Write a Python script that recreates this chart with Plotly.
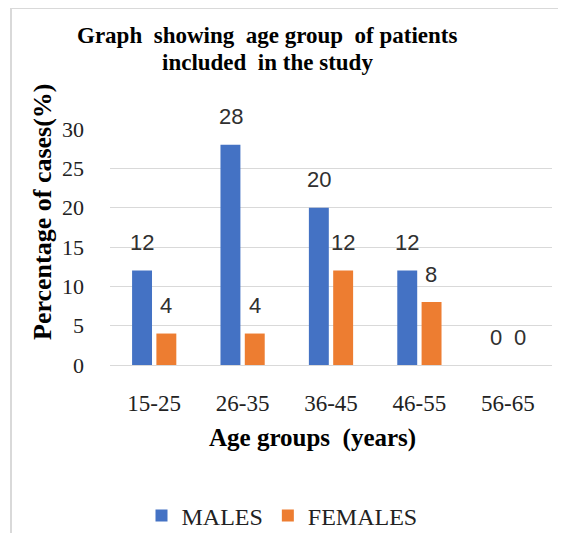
import plotly.graph_objects as go

categories = ["15-25", "26-35", "36-45", "46-55", "56-65"]
males = [12, 28, 20, 12, 0]
females = [4, 4, 12, 8, 0]
series_names = ["MALES", "FEMALES"]
y_ticks = [0, 5, 10, 15, 20, 25, 30]

W, H = 550, 525
OFF = 8  # page body margin
L, R, T, B = 102, 6, 121, 168
pw = W - L - R
ph = H - T - B

def px_x(px):
    return (px - OFF - L) / pw

def px_y(py):
    return (H - B - (py - OFF)) / ph

serif = "Liberation Serif, Times New Roman, serif"
sans = "Liberation Sans Narrow, Liberation Sans, sans-serif"

fig = go.Figure()
fig.add_trace(go.Bar(x=categories, y=males, name=series_names[0],
                     marker=dict(color="#4472C4", line=dict(width=0))))
fig.add_trace(go.Bar(x=categories, y=females, name=series_names[1],
                     marker=dict(color="#ED7D31", line=dict(width=0))))

annotations = []
for vals, shift in ((males, -12), (females, 12)):
    for c, v in zip(categories, vals):
        annotations.append(dict(x=c, y=v, xref="x", yref="y", text=str(v),
                                showarrow=False, xshift=shift, yshift=28,
                                font=dict(family=sans, size=22, color="#303030")))

for txt, yy in (("<b>Graph  showing  age group  of patients</b>", 36),
                ("<b>included  in the study</b>", 62)):
    annotations.append(dict(x=px_x(267), y=px_y(yy), xref="paper", yref="paper",
                            text=txt, showarrow=False,
                            font=dict(family=serif, size=23, color="#000000"),
                            xanchor="center", yanchor="middle"))
annotations.append(dict(x=px_x(312), y=px_y(438), xref="paper", yref="paper",
                        text="<b>Age groups  (years)</b>", showarrow=False,
                        font=dict(family=serif, size=25, color="#000000"),
                        xanchor="center", yanchor="middle"))
annotations.append(dict(x=px_x(42), y=px_y(212), xref="paper", yref="paper",
                        text="<b>Percentage of cases(%)</b>", showarrow=False, textangle=-90,
                        font=dict(family=serif, size=26, color="#000000"),
                        xanchor="center", yanchor="middle"))

border = dict(color="#d9d9d9", width=2)
fig.update_layout(
    width=W, height=H,
    margin=dict(l=L, r=R, t=T, b=B, autoexpand=False),
    paper_bgcolor="white", plot_bgcolor="white",
    font=dict(family=serif, color="#222222"),
    barmode="group", bargap=0.45, bargroupgap=0.18,
    showlegend=True,
    legend=dict(orientation="h", x=px_x(282), y=px_y(516), xanchor="center", yanchor="middle",
                font=dict(family=serif, size=24, color="#222222"),
                itemwidth=30, tracegroupgap=0),
    xaxis=dict(showgrid=False, showline=False, ticks="", ticklabelstandoff=22, automargin=False,
               tickfont=dict(family=serif, size=23, color="#222222")),
    yaxis=dict(range=[0, 30], tickvals=y_ticks, showgrid=True, gridcolor="#d9d9d9",
               gridwidth=1, zeroline=True, zerolinecolor="#d9d9d9", zerolinewidth=1,
               showline=False, ticks="", ticklabelstandoff=25, automargin=False,
               tickfont=dict(family=serif, size=22, color="#222222")),
    annotations=annotations,
    shapes=[
        dict(type="line", xref="paper", yref="paper",
             x0=px_x(11), x1=px_x(570), y0=px_y(8), y1=px_y(8), line=border, layer="below"),
        dict(type="line", xref="paper", yref="paper",
             x0=px_x(11), x1=px_x(11), y0=px_y(8), y1=px_y(545), line=border, layer="below"),
    ],
)

fig.write_html("out.html")
